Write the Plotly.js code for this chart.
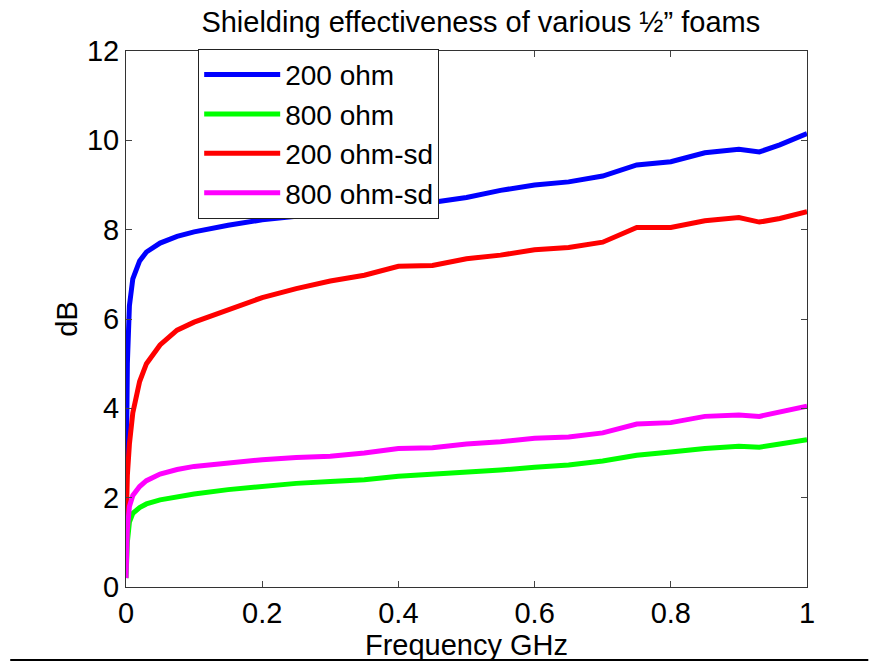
<!DOCTYPE html>
<html>
<head>
<meta charset="utf-8">
<script src="https://cdn.plot.ly/plotly-3.0.1.min.js"></script>
<style>html,body{margin:0;padding:0;background:#fff;}#chart{width:880px;height:664px;}</style>
</head>
<body>
<div id="chart"></div>
<script>
const freqGHz = [0, 0.002, 0.005, 0.01, 0.02, 0.03, 0.05, 0.075, 0.1, 0.15, 0.2, 0.25, 0.3, 0.35, 0.4, 0.45, 0.5, 0.55, 0.6, 0.65, 0.7, 0.75, 0.8, 0.85, 0.9, 0.93, 0.96, 1.0];
const ohm200   = [2.0, 5.0, 6.3, 6.9, 7.3, 7.5, 7.7, 7.85, 7.95, 8.1, 8.22, 8.3, 8.35, 8.4, 8.5, 8.6, 8.72, 8.88, 9.0, 9.07, 9.2, 9.45, 9.52, 9.72, 9.8, 9.74, 9.9, 10.15];
const ohm800   = [0.2, 1.0, 1.45, 1.65, 1.78, 1.86, 1.95, 2.02, 2.08, 2.18, 2.25, 2.32, 2.36, 2.4, 2.48, 2.52, 2.57, 2.62, 2.68, 2.73, 2.82, 2.95, 3.02, 3.1, 3.15, 3.13, 3.2, 3.3];
const ohm200sd = [1.3, 2.5, 3.2, 3.9, 4.6, 5.0, 5.42, 5.75, 5.93, 6.2, 6.48, 6.68, 6.85, 6.98, 7.18, 7.2, 7.35, 7.43, 7.55, 7.6, 7.72, 8.05, 8.05, 8.2, 8.27, 8.17, 8.25, 8.4];
const ohm800sd = [0.2, 1.3, 1.8, 2.05, 2.25, 2.38, 2.53, 2.63, 2.7, 2.78, 2.85, 2.9, 2.93, 3.0, 3.1, 3.12, 3.2, 3.25, 3.33, 3.36, 3.45, 3.65, 3.68, 3.82, 3.85, 3.82, 3.92, 4.05];
const seriesNames = ["200 ohm", "800 ohm", "200 ohm-sd", "800 ohm-sd"];
const seriesColors = ["#0000ff", "#00ff00", "#ff0000", "#ff00ff"];
const seriesValues = [ohm200, ohm800, ohm200sd, ohm800sd];
const xTicks = [0, 0.2, 0.4, 0.6, 0.8, 1];
const xTickText = ["0", "0.2", "0.4", "0.6", "0.8", "1"];
const yTicks = [0, 2, 4, 6, 8, 10, 12];

const FONT = "Liberation Sans, Arial, sans-serif";
const FS = 29;
const traces = seriesValues.map((v, i) => ({
  type: "scatter", mode: "lines", x: freqGHz, y: v, name: seriesNames[i],
  line: {color: seriesColors[i], width: 5}
}));

const layout = {
  width: 880, height: 664,
  margin: {l: 126, r: 73, t: 51, b: 77, pad: 0},
  paper_bgcolor: "#fff", plot_bgcolor: "#fff",
  font: {family: FONT, size: FS, color: "#000"},
  title: {text: "Shielding effectiveness of various ½” foams", x: 0.521, xref: "paper", xanchor: "center", y: 0.967, yref: "container", yanchor: "middle", font: {family: FONT, size: FS, color: "#000"}},
  xaxis: {range: [0, 1], tickvals: xTicks, ticktext: xTickText, ticks: "inside", ticklen: 6, tickcolor: "#444", showline: true, linecolor: "#333", linewidth: 1, mirror: "ticks", showgrid: false, zeroline: false,
    tickfont: {family: FONT, size: FS}, title: {text: "Frequency GHz", font: {family: FONT, size: FS}, standoff: 0}},
  yaxis: {range: [0, 12], tickvals: yTicks, ticks: "inside", ticklen: 6, tickcolor: "#444", showline: true, linecolor: "#333", linewidth: 1, mirror: "ticks", showgrid: false, zeroline: false,
    tickfont: {family: FONT, size: FS}, title: {text: "dB", font: {family: FONT, size: FS}, standoff: 0}},
  showlegend: true,
  legend: {x: 0.106, y: 1.004, xanchor: "left", yanchor: "top", bgcolor: "#fff", bordercolor: "#222", borderwidth: 1,
    font: {family: FONT, size: 28, color: "#000"}, itemwidth: 76},
  shapes: [{type: "line", xref: "paper", yref: "paper", x0: -0.17, x1: 1.09, y0: -0.136, y1: -0.136, line: {color: "#000", width: 2}}]
};
Plotly.newPlot("chart", traces, layout, {staticPlot: true, displayModeBar: false});
</script>
</body>
</html>
